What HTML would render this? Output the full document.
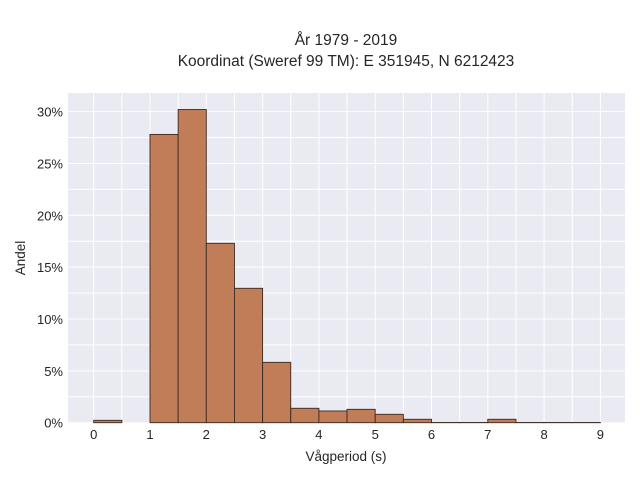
<!DOCTYPE html>
<html><head><meta charset="utf-8"><style>
body{margin:0;background:#fff;font-family:"Liberation Sans",sans-serif;}
svg text{font-family:"Liberation Sans",sans-serif;fill:#262626;}
</style></head><body>
<svg id="chart" width="640" height="480" xmlns="http://www.w3.org/2000/svg">
<rect x="0" y="0" width="640" height="480" fill="#fff"/>
<text x="346" y="45" font-size="15.5" text-anchor="middle">År 1979 - 2019</text>
<text x="346" y="66" font-size="15.5" text-anchor="middle">Koordinat (Sweref 99 TM): E 351945, N 6212423</text>
<rect x="68" y="93" width="557" height="330" fill="#eaeaf2"/>
<g id="grid"></g>
<g id="bars"></g>
<g id="ticks"></g>
<text x="346" y="461" font-size="13.5" text-anchor="middle">Vågperiod (s)</text>
<text x="0" y="0" font-size="13.5" text-anchor="middle" transform="translate(25,258) rotate(-90)">Andel</text>
</svg>
<script>
const binStarts=[0,0.5,1,1.5,2,2.5,3,3.5,4,4.5,5,5.5,6,6.5,7,7.5,8,8.5];
const binValues=[0.23,0,27.8,30.2,17.3,12.96,5.82,1.39,1.13,1.29,0.81,0.33,0.02,0.02,0.33,0.02,0.02,0.02];
const binWidth=0.5;
const xTicks=[0,1,2,3,4,5,6,7,8,9];
const yTicks=[0,5,10,15,20,25,30];
const yTickLabels=["0%","5%","10%","15%","20%","25%","30%"];
const NS="http://www.w3.org/2000/svg";
const L=68,R=625,T=93,B=423;
function xs(v){return 93.7+v*56.3;}
function ys(v){return 422.7-v*10.37;}
function mk(tag,attrs,parent){const e=document.createElementNS(NS,tag);for(const k in attrs)e.setAttribute(k,attrs[k]);parent.appendChild(e);return e;}
const grid=document.getElementById('grid'),bars=document.getElementById('bars'),ticks=document.getElementById('ticks');
for(let i=0;i<19;i++){const v=i*0.5;const x=xs(v);if(x<L||x>R)continue;
 const ln=mk('line',{x1:x,x2:x,y1:T,y2:B,stroke:'#fff','stroke-width':1},grid);
 
 }
for(let v=0;v<=30;v+=2.5){const y=ys(v);
 const ln=mk('line',{x1:L,x2:R,y1:y,y2:y,stroke:'#fff','stroke-width':1},grid);
 
 }
binStarts.forEach((s,i)=>{const v=binValues[i];if(v<=0)return;
 const x0=xs(s),x1=xs(s+binWidth),y=ys(v);
 const r=mk('rect',{x:x0,y:y,width:x1-x0,height:ys(0)-y,fill:'#c07d58',stroke:'#3a2a20','stroke-width':0.9},bars);
 
 });
xTicks.forEach(v=>{const t=mk('text',{x:xs(v),y:439,'font-size':13,'text-anchor':'middle'},ticks);t.textContent=v;
 
 });
yTicks.forEach((v,i)=>{const t=mk('text',{x:63,y:ys(v)+5,'font-size':13,'text-anchor':'end'},ticks);t.textContent=yTickLabels[i];
 
 });
</script>
</body></html>
